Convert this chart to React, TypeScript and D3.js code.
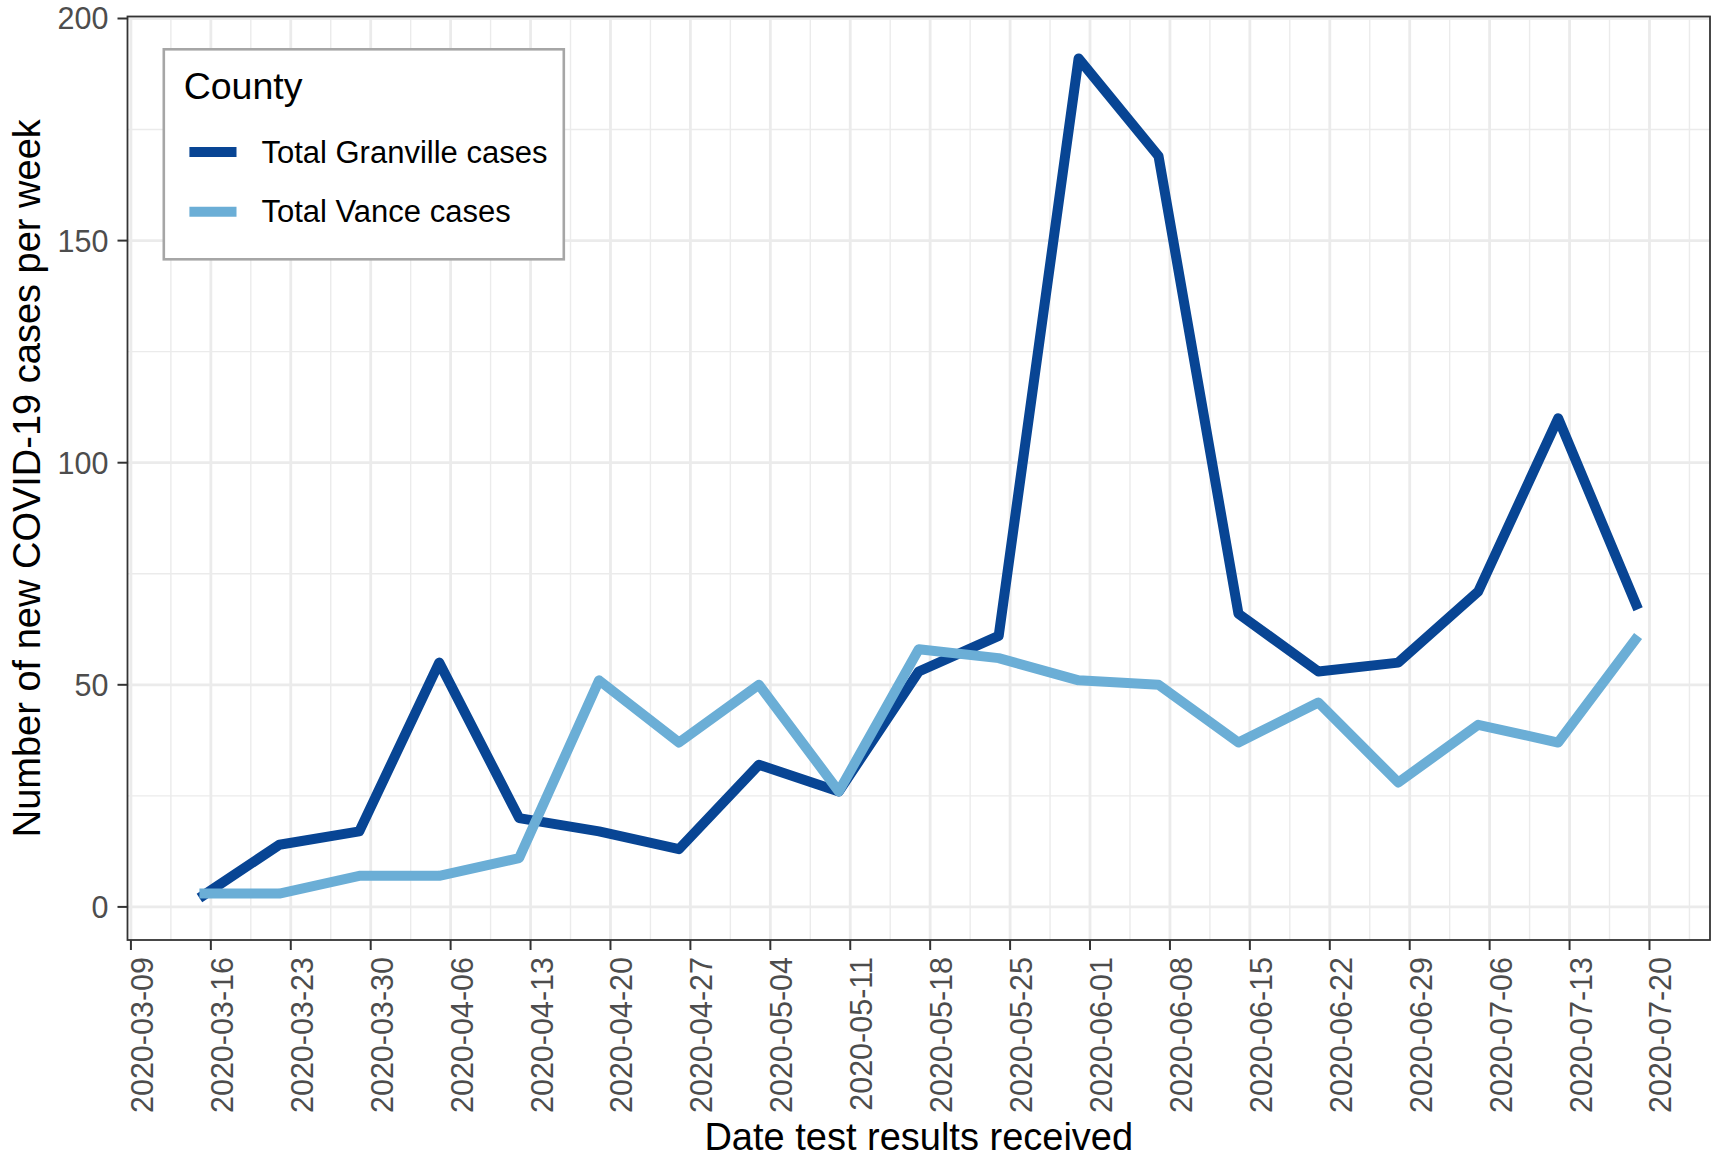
import React from "react";
import * as d3 from "d3";

const dates = [
  "2020-03-15", "2020-03-22", "2020-03-29", "2020-04-05", "2020-04-12",
  "2020-04-19", "2020-04-26", "2020-05-03", "2020-05-10", "2020-05-17",
  "2020-05-24", "2020-05-31", "2020-06-07", "2020-06-14", "2020-06-21",
  "2020-06-28", "2020-07-05", "2020-07-12", "2020-07-19",
];
const granville = [2, 14, 17, 55, 20, 17, 13, 32, 26, 53, 61, 191, 169, 66, 53, 55, 71, 110, 67];
const vance = [3, 3, 7, 7, 11, 51, 37, 50, 26, 58, 56, 51, 50, 37, 46, 28, 41, 37, 61];
const xTickLabels = [
  "2020-03-09", "2020-03-16", "2020-03-23", "2020-03-30", "2020-04-06",
  "2020-04-13", "2020-04-20", "2020-04-27", "2020-05-04", "2020-05-11",
  "2020-05-18", "2020-05-25", "2020-06-01", "2020-06-08", "2020-06-15",
  "2020-06-22", "2020-06-29", "2020-07-06", "2020-07-13", "2020-07-20",
];
const yTicks = [0, 50, 100, 150, 200];
const yMinor = [25, 75, 125, 175];
const seriesNames = ["Total Granville cases", "Total Vance cases"];
const seriesColors = ["#084594", "#6BAED6"];

const W = 1717;
const H = 1157;
const M = { left: 127.5, right: 1710, top: 16.5, bottom: 940 };
const FONT = "'Liberation Sans', Arial, Helvetica, sans-serif";

const parse = d3.utcParse("%Y-%m-%d");

export default function App() {
  const dts = dates.map((d) => parse(d) as Date);
  const xExt = d3.extent(dts) as [Date, Date];
  const span = +xExt[1] - +xExt[0];
  const x = d3
    .scaleUtc()
    .domain([new Date(+xExt[0] - span * 0.05), new Date(+xExt[1] + span * 0.05)])
    .range([M.left, M.right]);

  const all = [...granville, ...vance];
  const yMin = d3.min(all) as number;
  const yMax = d3.max(all) as number;
  const yPad = (yMax - yMin) * 0.05;
  const y = d3.scaleLinear().domain([yMin - yPad, yMax + yPad]).range([M.bottom, M.top]);

  const tickDates = xTickLabels.map((d) => parse(d) as Date);
  const dayMs = 86400000;
  const minorDates: Date[] = [];
  const allMinor = [new Date(+tickDates[0] - 3.5 * dayMs), ...tickDates.map((t) => new Date(+t + 3.5 * dayMs))];
  allMinor.forEach((m) => {
    const px = x(m);
    if (px > M.left && px < M.right) minorDates.push(m);
  });

  const line = d3
    .line<[Date, number]>()
    .x((d) => x(d[0]))
    .y((d) => y(d[1]));

  const series = [granville, vance].map((vals) => vals.map((v, i) => [dts[i], v] as [Date, number]));

  const legX = 163.8;
  const legY = 49.3;
  const legW = 400;
  const legH = 210;

  return (
    <svg
      width={W}
      height={H}
      style={{ position: "absolute", left: 0, top: 0, background: "#fff" }}
      fontFamily={FONT}
    >
      <rect x={0} y={0} width={W} height={H} fill="#fff" />
      {/* minor gridlines */}
      {yMinor.map((v) => (
        <line key={"ym" + v} x1={M.left} x2={M.right} y1={y(v)} y2={y(v)} stroke="#EBEBEB" strokeWidth={1.4} />
      ))}
      {minorDates.map((m, i) => (
        <line key={"xm" + i} x1={x(m)} x2={x(m)} y1={M.top} y2={M.bottom} stroke="#EBEBEB" strokeWidth={1.4} />
      ))}
      {/* major gridlines */}
      {yTicks.map((v) => (
        <line key={"yM" + v} x1={M.left} x2={M.right} y1={y(v)} y2={y(v)} stroke="#EBEBEB" strokeWidth={2.8} />
      ))}
      {tickDates.map((t, i) => (
        <line key={"xM" + i} x1={x(t)} x2={x(t)} y1={M.top} y2={M.bottom} stroke="#EBEBEB" strokeWidth={2.8} />
      ))}
      {/* lines */}
      {series.map((s, i) => (
        <path
          key={"s" + i}
          d={line(s) || ""}
          fill="none"
          stroke={seriesColors[i]}
          strokeWidth={10}
          strokeLinejoin="round"
          strokeLinecap="butt"
        />
      ))}
      {/* panel border */}
      <rect
        x={M.left}
        y={M.top}
        width={M.right - M.left}
        height={M.bottom - M.top}
        fill="none"
        stroke="#333333"
        strokeWidth={1.8}
      />
      {/* y axis ticks and labels */}
      {yTicks.map((v) => (
        <g key={"yt" + v}>
          <line x1={M.left - 10} x2={M.left} y1={y(v)} y2={y(v)} stroke="#333333" strokeWidth={2} />
          <text
            x={M.left - 19}
            y={y(v)}
            textAnchor="end"
            dominantBaseline="central"
            fontSize={30.5}
            fill="#4D4D4D"
          >
            {v}
          </text>
        </g>
      ))}
      {/* x axis ticks and labels */}
      {tickDates.map((t, i) => (
        <g key={"xt" + i}>
          <line x1={x(t)} x2={x(t)} y1={M.bottom} y2={M.bottom + 10} stroke="#333333" strokeWidth={2} />
          <text
            transform={`translate(${x(t) + 22},${M.bottom + 17}) rotate(-90)`}
            textAnchor="end"
            fontSize={30.5}
            fill="#4D4D4D"
          >
            {xTickLabels[i]}
          </text>
        </g>
      ))}
      {/* axis titles */}
      <text x={(M.left + M.right) / 2} y={1150} textAnchor="middle" fontSize={38} fill="#000">
        Date test results received
      </text>
      <text
        transform={`translate(39.5,${(M.top + M.bottom) / 2}) rotate(-90)`}
        textAnchor="middle"
        fontSize={38}
        fill="#000"
      >
        Number of new COVID-19 cases per week
      </text>
      {/* legend */}
      <rect x={legX} y={legY} width={legW} height={legH} fill="#fff" stroke="#A6A6A6" strokeWidth={2.6} />
      <text x={183.7} y={99.3} fontSize={37.5} fill="#000">
        County
      </text>
      {seriesNames.map((n, i) => {
        const cy = 152 + i * 59.7;
        return (
          <g key={"lg" + i}>
            <line x1={189.4} x2={236.5} y1={cy} y2={cy} stroke={seriesColors[i]} strokeWidth={10} />
            <text x={261.4} y={cy} dominantBaseline="central" fontSize={31} fill="#000">
              {n}
            </text>
          </g>
        );
      })}
    </svg>
  );
}
